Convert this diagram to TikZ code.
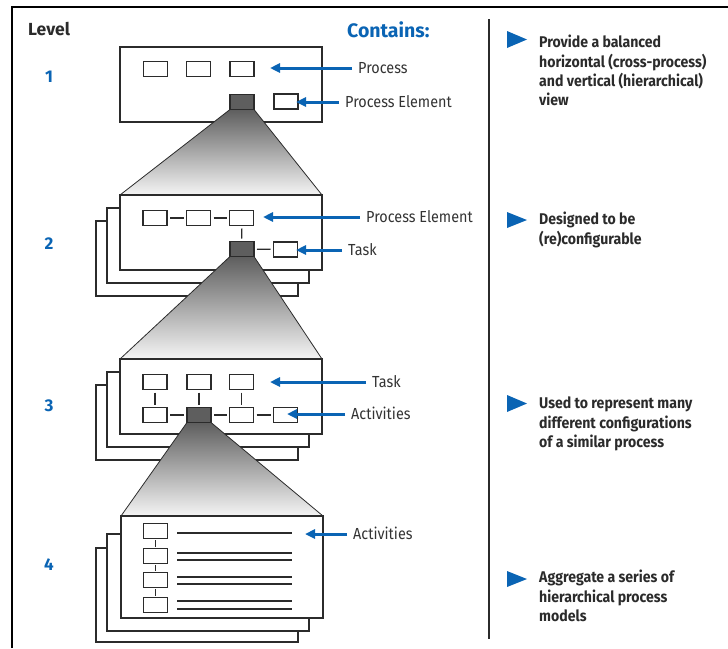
\documentclass[tikz,border=0pt]{standalone}
\usepackage{fontspec}
\setmainfont{Fira Sans}
\newfontfamily\lblfont[FakeStretch=0.9]{Fira Sans}
\newfontfamily\bulfont[FakeStretch=0.91]{Fira Sans}
\usetikzlibrary{arrows.meta}
\definecolor{ink}{HTML}{2B2B2B}
\definecolor{hpblue}{HTML}{0A64B4}
\definecolor{slate}{HTML}{5E5E5E}
\definecolor{labelgray}{HTML}{333333}

\tikzset{
  sheet/.style={draw=ink, line width=1.5pt, fill=white, inner sep=0pt, outer sep=0pt,
    minimum width=202pt, anchor=north west},
  cell/.style={draw=ink, line width=1.7pt, fill=white, inner sep=0pt, outer sep=0pt,
    minimum width=24pt, minimum height=15pt},
  hub/.style={cell, fill=slate},
  link/.style={draw=ink, line width=1.3pt, shorten <=3pt, shorten >=3pt},
  rulebar/.style={draw=ink, line width=1.4pt},
  pointer/.style={draw=hpblue, line width=3pt, shorten <=6pt,
    -{Triangle[length=10pt,width=9pt]}},
  funnel/.style={draw=ink, line width=0.8pt, top color=slate, bottom color=black!4},
  lbl/.style={font=\lblfont\fontsize{16}{19}\selectfont, text=labelgray, anchor=west,
    inner sep=0pt, text height=11pt, text depth=0pt},
  num/.style={font=\bfseries\fontsize{17}{20}\selectfont, text=hpblue,
    inner sep=0pt, text height=12pt, text depth=0pt},
  bullettext/.style={font=\bulfont\bfseries\fontsize{15.5}{19.3}\selectfont, text=ink,
    anchor=north west, align=left, inner sep=0pt},
  bulletmark/.style={fill=hpblue},
}

\begin{document}
\begin{tikzpicture}[x=1pt,y=-1pt]
\useasboundingbox (0,0) rectangle (728,648);

% outer frame (top and left edges only)
\draw[line width=2.5pt, black] (12,648) -- (12,7) -- (728,7);
% column divider
\draw[line width=1.5pt, ink] (489,19) -- (489,639);

% headings
\node[font=\bfseries\fontsize{17.5}{20}\selectfont, text=ink, anchor=west, inner sep=0pt,
  text height=12pt, text depth=0pt] (hLevel) at (28,29) {Level};
\node[font=\bfseries\fontsize{19.5}{22}\selectfont, text=hpblue, anchor=west, inner sep=0pt,
  text height=14pt, text depth=0pt] (hContains) at (347,30) {Contains:};

% level numbers
\node[num] (n1) at (49,76) {1};
\node[num] (n2) at (49,243) {2};
\node[num] (n3) at (49,405) {3};
\node[num] (n4) at (49,564) {4};

% ---------- level 1 ----------
\node[sheet, minimum height=75pt] (p1) at (120,47) {};
\node[cell] (a1) at (155.5,69) {};
\node[cell] (a2) at (198.5,69) {};
\node[cell] (a3) at (242,69) {};
\node[hub]  (h1) at (242,102) {};
\node[cell] (a4) at (286,101.5) {};

% ---------- funnel 1 -> 2 ----------
\node[sheet, minimum height=75pt, draw=none, fill=none] (p2) at (120,195) {};
\path[funnel] (h1.south west) -- (h1.south east) -- (p2.north east) -- (p2.north west) -- cycle;

% ---------- level 2 ----------
\node[sheet, minimum height=75pt] (s2c) at (96,221) {};
\node[sheet, minimum height=75pt] (s2b) at (107,208) {};
\node[sheet, minimum height=75pt] at (120,195) {};
\node[cell] (b1) at (155,218) {};
\node[cell] (b2) at (198.5,218) {};
\node[cell] (b3) at (241.5,218) {};
\node[hub]  (h2) at (242,249) {};
\node[cell] (b4) at (285.5,249.5) {};
\draw[link] (b1) -- (b2);
\draw[link] (b2) -- (b3);
\draw[link] (b3) -- (h2);
\draw[link] (h2) -- (b4);

% ---------- funnel 2 -> 3 ----------
\node[sheet, minimum height=75pt, draw=none, fill=none] (p3) at (120,359) {};
\path[funnel] (h2.south west) -- (h2.south east) -- (p3.north east) -- (p3.north west) -- cycle;

% ---------- level 3 ----------
\node[sheet, minimum height=75pt] (s3c) at (96,385) {};
\node[sheet, minimum height=75pt] (s3b) at (107,372) {};
\node[sheet, minimum height=75pt] at (120,359) {};
\node[cell] (c1) at (155,382) {};
\node[cell] (c2) at (199,382) {};
\node[cell] (c3) at (241.5,382) {};
\node[cell] (d1) at (155,415) {};
\node[hub]  (h3) at (199,415) {};
\node[cell] (d3) at (241.5,415) {};
\node[cell] (d4) at (285.5,415) {};
\draw[link] (c1) -- (d1);
\draw[link] (c2) -- (h3);
\draw[link] (c3) -- (d3);
\draw[link] (d1) -- (h3);
\draw[link] (h3) -- (d3);
\draw[link] (d3) -- (d4);

% ---------- funnel 3 -> 4 ----------
\node[sheet, minimum height=102pt, draw=none, fill=none] (p4) at (121,516) {};
\path[funnel] (h3.south west) -- (h3.south east) -- (p4.north east) -- (p4.north west) -- cycle;

% ---------- level 4 ----------
\node[sheet, minimum height=94pt] (s4c) at (96,548) {};
\node[sheet, minimum height=97pt] (s4b) at (107,534) {};
\node[sheet, minimum height=102pt] at (121,516) {};
\node[cell] (e1) at (155.5,531) {};
\node[cell] (e2) at (155.5,556) {};
\node[cell] (e3) at (155.5,580) {};
\node[cell] (e4) at (155.5,605) {};
\draw[link, shorten <=1.5pt, shorten >=1.5pt] (e1) -- (e2);
\draw[link, shorten <=1.5pt, shorten >=1.5pt] (e2) -- (e3);
\draw[link, shorten <=1.5pt, shorten >=1.5pt] (e3) -- (e4);
\draw[rulebar] (177,533) -- (292,533);
\draw[rulebar] (177,553) -- (292,553);
\draw[rulebar] (177,560) -- (292,560);
\draw[rulebar] (177,577) -- (292,577);
\draw[rulebar] (177,584) -- (292,584);
\draw[rulebar] (177,601) -- (292,601);
\draw[rulebar] (177,609) -- (292,609);

% ---------- labels and pointers ----------
\node[lbl] (lProc) at (358,68) {Process};
\node[lbl] (lPE1)  at (345,102) {Process Element};
\node[lbl] (lPE2)  at (366,217) {Process Element};
\node[lbl] (lTask2) at (348,250) {Task};
\node[lbl] (lTask3) at (372,382) {Task};
\node[lbl] (lAct3) at (351,414) {Activities};
\node[lbl] (lAct4) at (353,534) {Activities};

\coordinate (tProc)  at (270,68);
\coordinate (tPE1)   at (296,102);
\coordinate (tPE2)   at (263,217);
\coordinate (tTask2) at (296,250);
\coordinate (tTask3) at (270,382);
\coordinate (tAct3)  at (287,414);
\coordinate (tAct4)  at (305,534);

\draw[pointer] (lProc.west)  -- (tProc);
\draw[pointer] (lPE1.west)   -- (tPE1);
\draw[pointer] (lPE2.west)   -- (tPE2);
\draw[pointer] (lTask2.west) -- (tTask2);
\draw[pointer] (lTask3.west) -- (tTask3);
\draw[pointer] (lAct3.west)  -- (tAct3);
\draw[pointer] (lAct4.west)  -- (tAct4);

% ---------- right column ----------
\fill[bulletmark] (507,31) -- (527,39.5) -- (507,48) -- cycle;
\node[bullettext] (t1) at (539,35) {Provide a balanced\\horizontal (cross-process)\\and vertical (hierarchical)\\view};
\fill[bulletmark] (507,212) -- (527,220) -- (507,228) -- cycle;
\node[bullettext] (t2) at (539,212) {Designed to be\\(re)configurable};
\fill[bulletmark] (507,395) -- (527,403.5) -- (507,412) -- cycle;
\node[bullettext] (t3) at (539,397) {Used to represent many\\different configurations\\of a similar process};
\fill[bulletmark] (507,571) -- (527,579) -- (507,587) -- cycle;
\node[bullettext] (t4) at (539,570) {Aggregate a series of\\hierarchical process\\models};
\end{tikzpicture}
\end{document}
